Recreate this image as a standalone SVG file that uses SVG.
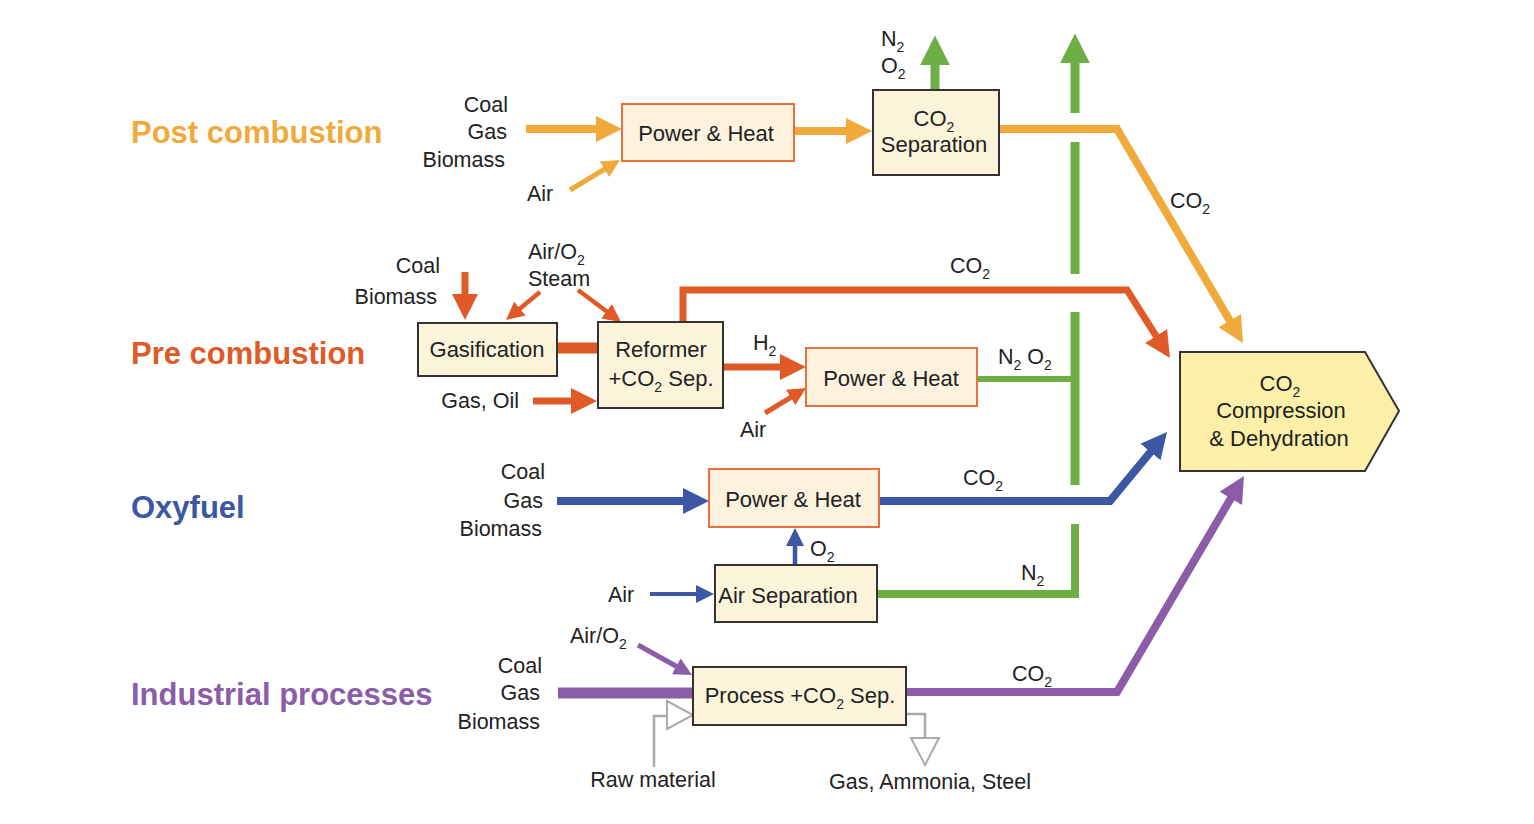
<svg xmlns="http://www.w3.org/2000/svg" width="1534" height="824" viewBox="0 0 1534 824">
<style>
text{font-family:"Liberation Sans",Arial,sans-serif;fill:#222;}
.t{font-weight:bold;font-size:31px;}
.l{font-size:21.5px;}
.b{font-size:22px;}
.m{text-anchor:middle;}
.e{text-anchor:end;}
.s{font-size:14px;}
.box{fill:#FBF4DA;stroke:#333;stroke-width:2;}
.obox{fill:#FCF2DE;stroke:#E8703C;stroke-width:2;}
.c{fill:none;stroke-linejoin:miter;}
.y{stroke:#F0A93B;}
.r{stroke:#E05A28;}
.bl{stroke:#3D57A5;}
.p{stroke:#8B5CA7;}
.g{stroke:#6DAE45;}
.gr{fill:none;stroke:#AAAAAA;stroke-width:2.5;}
.hol{fill:#fff;stroke:#AAAAAA;stroke-width:2;}
</style>
<defs>
<marker id="yL" viewBox="0 0 10 10" refX="6" refY="5" markerUnits="userSpaceOnUse" markerWidth="26" markerHeight="28" orient="auto"><path d="M0,0L10,5L0,10z" fill="#F0A93B"/></marker>
<marker id="yS" viewBox="0 0 10 10" refX="6" refY="5" markerUnits="userSpaceOnUse" markerWidth="18" markerHeight="18" orient="auto"><path d="M0,0L10,5L0,10z" fill="#F0A93B"/></marker>
<marker id="rL" viewBox="0 0 10 10" refX="6" refY="5" markerUnits="userSpaceOnUse" markerWidth="26" markerHeight="28" orient="auto"><path d="M0,0L10,5L0,10z" fill="#E05A28"/></marker>
<marker id="rS" viewBox="0 0 10 10" refX="6" refY="5" markerUnits="userSpaceOnUse" markerWidth="18" markerHeight="18" orient="auto"><path d="M0,0L10,5L0,10z" fill="#E05A28"/></marker>
<marker id="bL" viewBox="0 0 10 10" refX="6" refY="5" markerUnits="userSpaceOnUse" markerWidth="26" markerHeight="28" orient="auto"><path d="M0,0L10,5L0,10z" fill="#3D57A5"/></marker>
<marker id="bS" viewBox="0 0 10 10" refX="6" refY="5" markerUnits="userSpaceOnUse" markerWidth="18" markerHeight="18" orient="auto"><path d="M0,0L10,5L0,10z" fill="#3D57A5"/></marker>
<marker id="pL" viewBox="0 0 10 10" refX="6" refY="5" markerUnits="userSpaceOnUse" markerWidth="26" markerHeight="28" orient="auto"><path d="M0,0L10,5L0,10z" fill="#8B5CA7"/></marker>
<marker id="pS" viewBox="0 0 10 10" refX="6" refY="5" markerUnits="userSpaceOnUse" markerWidth="18" markerHeight="18" orient="auto"><path d="M0,0L10,5L0,10z" fill="#8B5CA7"/></marker>
<marker id="gL" viewBox="0 0 10 10" refX="6" refY="5" markerUnits="userSpaceOnUse" markerWidth="30" markerHeight="30" orient="auto"><path d="M0,0L10,5L0,10z" fill="#6DAE45"/></marker>
</defs>
<rect width="1534" height="824" fill="#fff"/>

<g id="titles">
<text class="t" x="131" y="143" style="fill:#F0A93B">Post combustion</text>
<text class="t" x="131" y="364" style="fill:#E05A28">Pre combustion</text>
<text class="t" x="131" y="518" style="fill:#3D57A5">Oxyfuel</text>
<text class="t" x="131" y="705" style="fill:#8B5CA7">Industrial processes</text>
</g>

<g id="connectors">
<path class="c g" stroke-width="9" d="M1075,113V45.4" marker-end="url(#gL)"/>
<path class="c g" stroke-width="9" d="M1075,142V274"/>
<path class="c g" stroke-width="9" d="M1075,312V485"/>
<path class="c g" stroke-width="8" d="M878,594H1075V524"/>
<path class="c g" stroke-width="6" d="M977,379H1075"/>
<path class="c g" stroke-width="9" d="M935,90V47.4" marker-end="url(#gL)"/>
<path class="c y" stroke-width="8" d="M526,129H611.6" marker-end="url(#yL)"/>
<path class="c y" stroke-width="5" d="M570,190L613.8,163.7" marker-end="url(#yS)"/>
<path class="c y" stroke-width="8" d="M794,131H861.6" marker-end="url(#yL)"/>
<path class="c y" stroke-width="8" d="M999,129H1117L1237.7,334" marker-end="url(#yL)"/>
<path class="c r" stroke-width="7" d="M465,272V309.6" marker-end="url(#rL)"/>
<path class="c r" stroke-width="4.5" d="M540,292L511.6,315.4" marker-end="url(#rS)"/>
<path class="c r" stroke-width="4.5" d="M578,290L615.2,317.7" marker-end="url(#rS)"/>
<path class="c r" stroke-width="11" d="M557,348H598"/>
<path class="c r" stroke-width="7" d="M533,401H586.6" marker-end="url(#rL)"/>
<path class="c r" stroke-width="7" d="M683,323V290H1127L1164.4,349.2" marker-end="url(#rL)"/>
<path class="c r" stroke-width="7" d="M723,367H795.6" marker-end="url(#rL)"/>
<path class="c r" stroke-width="5" d="M765,413L799.9,391.8" marker-end="url(#rS)"/>
<path class="c bl" stroke-width="8" d="M557,501H698.6" marker-end="url(#bL)"/>
<path class="c bl" stroke-width="8" d="M879,501H1110L1160.4,440" marker-end="url(#bL)"/>
<path class="c bl" stroke-width="4.5" d="M795,565V535.2" marker-end="url(#bS)"/>
<path class="c bl" stroke-width="4" d="M650,594H706.8" marker-end="url(#bS)"/>
<path class="c p" stroke-width="5" d="M638,645L685.7,671.5" marker-end="url(#pS)"/>
<path class="c p" stroke-width="11" d="M558,693H693"/>
<path class="c p" stroke-width="8" d="M906,692H1117L1238.7,485" marker-end="url(#pL)"/>
<path class="gr" d="M654,767V716H667"/>
<polygon class="hol" points="667,701 693,715 667,729"/>
<path class="gr" d="M906,714H925V738"/>
<polygon class="hol" points="911,738 939,738 925,765"/>
</g>

<g id="post-labels">
<text class="l e" x="508" y="112">Coal</text>
<text class="l e" x="507" y="139">Gas</text>
<text class="l e" x="505" y="167">Biomass</text>
<text class="l" x="527" y="201">Air</text>
<text class="l" x="881" y="46">N<tspan class="s" dy="6">2</tspan></text>
<text class="l" x="881" y="73">O<tspan class="s" dy="6">2</tspan></text>
<text class="l" x="1170" y="208">CO<tspan class="s" dy="6">2</tspan></text>
</g>
<g id="post-power">
<rect class="obox" x="622" y="104" width="172" height="57"/>
<text class="b m" x="706" y="141">Power &amp; Heat</text>
</g>
<g id="post-sep">
<rect class="box" x="873" y="90" width="126" height="85"/>
<text class="b m" x="934" y="126">CO<tspan class="s" dy="6">2</tspan></text>
<text class="b m" x="934" y="152">Separation</text>
</g>

<g id="pre-labels">
<text class="l e" x="440" y="273">Coal</text>
<text class="l e" x="437" y="304">Biomass</text>
<text class="l" x="528" y="259">Air/O<tspan class="s" dy="6">2</tspan></text>
<text class="l" x="528" y="286">Steam</text>
<text class="l e" x="519" y="408">Gas, Oil</text>
<text class="l" x="753" y="350">H<tspan class="s" dy="6">2</tspan></text>
<text class="l" x="740" y="437">Air</text>
<text class="l" x="950" y="273">CO<tspan class="s" dy="6">2</tspan></text>
<text class="l" x="998" y="364">N<tspan class="s" dy="6">2</tspan><tspan dy="-6"> O</tspan><tspan class="s" dy="6">2</tspan></text>
</g>
<g id="gasification">
<rect class="box" x="418" y="323" width="139" height="53"/>
<text class="b m" x="487" y="357">Gasification</text>
</g>
<g id="reformer">
<rect class="box" x="598" y="322" width="125" height="86"/>
<text class="b m" x="661" y="357">Reformer</text>
<text class="b m" x="661" y="386">+CO<tspan class="s" dy="6">2</tspan><tspan dy="-6"> Sep.</tspan></text>
</g>
<g id="pre-power">
<rect class="obox" x="806" y="348" width="171" height="58"/>
<text class="b m" x="891" y="386">Power &amp; Heat</text>
</g>

<g id="oxy-labels">
<text class="l e" x="545" y="479">Coal</text>
<text class="l e" x="543" y="508">Gas</text>
<text class="l e" x="542" y="536">Biomass</text>
<text class="l" x="963" y="485">CO<tspan class="s" dy="6">2</tspan></text>
<text class="l" x="810" y="556">O<tspan class="s" dy="6">2</tspan></text>
<text class="l" x="608" y="602">Air</text>
<text class="l" x="1021" y="580">N<tspan class="s" dy="6">2</tspan></text>
</g>
<g id="oxy-power">
<rect class="obox" x="709" y="469" width="170" height="58"/>
<text class="b m" x="793" y="507">Power &amp; Heat</text>
</g>
<g id="air-separation">
<rect class="box" x="715" y="565" width="162" height="57"/>
<text class="b m" x="788" y="603">Air Separation</text>
</g>

<g id="ind-labels">
<text class="l" x="570" y="643">Air/O<tspan class="s" dy="6">2</tspan></text>
<text class="l e" x="542" y="673">Coal</text>
<text class="l e" x="540" y="700">Gas</text>
<text class="l e" x="540" y="729">Biomass</text>
<text class="l" x="1012" y="681">CO<tspan class="s" dy="6">2</tspan></text>
<text class="l m" x="653" y="787">Raw material</text>
<text class="l m" x="930" y="789">Gas, Ammonia, Steel</text>
</g>
<g id="process">
<rect class="box" x="693" y="667" width="213" height="58"/>
<text class="b m" x="800" y="703">Process +CO<tspan class="s" dy="6">2</tspan><tspan dy="-6"> Sep.</tspan></text>
</g>

<g id="compression">
<polygon points="1180,352 1365,352 1399,411 1365,471 1180,471" fill="#FCF0A8" stroke="#333" stroke-width="2"/>
<text class="b m" x="1280" y="391">CO<tspan class="s" dy="6">2</tspan></text>
<text class="b m" x="1281" y="418">Compression</text>
<text class="b m" x="1279" y="446">&amp; Dehydration</text>
</g>
</svg>
